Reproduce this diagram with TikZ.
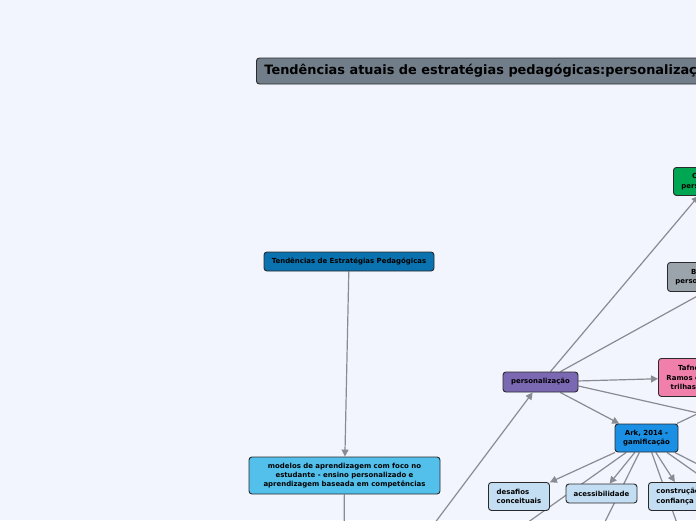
\documentclass[tikz,border=0pt]{standalone}
\usepackage{fontspec}
\setmainfont{DejaVu Sans}
\usetikzlibrary{arrows.meta}
\definecolor{bgc}{HTML}{F2F5FE}
\definecolor{edgec}{HTML}{8A8B92}
\definecolor{titlec}{HTML}{717D89}
\definecolor{greenc}{HTML}{00A651}
\definecolor{grayc}{HTML}{9BA3AB}
\definecolor{pinkc}{HTML}{F07FAC}
\definecolor{purplec}{HTML}{7B68B2}
\definecolor{arkc}{HTML}{1A8FE3}
\definecolor{lightc}{HTML}{C3DDF2}
\definecolor{tendc}{HTML}{0A72AE}
\definecolor{modelc}{HTML}{53C0EC}
\definecolor{borderc}{HTML}{2A2A2A}
\newcommand\smallbold{\fontsize{6.95}{9.3}\selectfont\bfseries}
\pgfdeclarelayer{back}
\pgfdeclarelayer{edges}
\pgfsetlayers{back,edges,main}
\tikzset{
  box/.style={draw=borderc, line width=0.9pt, rounded corners=3pt, font=\smallbold, align=center, inner sep=2pt, text=black},
  edge/.style={draw=edgec, line width=1.2pt},
  arr/.style={edge, -{Triangle[length=7pt,width=7pt]}},
}
\begin{document}
\begin{tikzpicture}[x=1pt,y=-1pt]
\useasboundingbox (0,0) rectangle (696,520);
\begin{pgfonlayer}{back}
\fill[bgc] (0,0) rectangle (696,520);
\end{pgfonlayer}

% nodes
\node[box, anchor=west, fill=titlec, font=\fontsize{12.9}{15}\selectfont\bfseries, inner xsep=8pt, minimum height=26pt] (title) at (256,71) {Tendências atuais de estratégias pedagógicas:personalização, gamificação e competências};
\node[box, anchor=north west, fill=greenc, inner xsep=8pt, minimum height=28pt] (green) at (673,167) {Cardoso -\\personalização};
\node[box, anchor=north west, fill=grayc, inner xsep=8pt, minimum height=29pt] (gray) at (667,262) {Brasil -\\personalização};
\node[box, anchor=north west, fill=pinkc, inner xsep=8pt, minimum height=38pt] (pink) at (658,358) {Tafner, 2020 e\\Ramos et al., 2021 -\\trilhas formativas};
\node[box, fill=purplec, minimum width=75pt, minimum height=20pt] (pers) at (540.5,382) {personalização};
\node[box, fill=arkc, minimum width=63pt, minimum height=28pt] (ark) at (646.5,438) {Ark, 2014 -\\gamificação};
\node[box, anchor=north west, fill=lightc, align=left, inner xsep=8pt, minimum width=61pt, minimum height=28pt] (desaf) at (488,482) {desafios\\conceituais};
\node[box, fill=lightc, minimum width=71pt, minimum height=19pt] (acess) at (601.5,493.5) {acessibilidade};
\node[box, anchor=north west, fill=lightc, align=left, inner xsep=8pt, minimum height=28pt] (constr) at (648,482) {construção de\\confiança};
\node[box, fill=tendc, minimum width=170pt, minimum height=19pt] (tend) at (349,261.5) {Tendências de Estratégias Pedagógicas};
\node[box, fill=modelc, minimum width=191pt, minimum height=37pt] (model) at (344.5,475.5) {modelos de aprendizagem com foco no\\estudante - ensino personalizado e\\aprendizagem baseada em competências};

% off-canvas targets
\coordinate (offA) at (422,540);
\coordinate (offB) at (344,540);
\coordinate (offC) at (760,427);
\coordinate (offD) at (503,540);
\coordinate (offE) at (596,540);
\coordinate (offF) at (683,540);
\coordinate (offG) at (760,518);
\coordinate (offH) at (760,496);
\coordinate (offI) at (760,384);

\begin{pgfonlayer}{edges}
\draw[arr] (tend) -- (model);
\draw[edge] (model) -- (offB);
\draw[arr] (offA) -- (pers);
\draw[arr] ([xshift=10pt]pers.north) -- (green);
\draw[arr] ([xshift=20pt]pers.north) -- (gray.south);
\draw[arr] (pers) -- (pink);
\draw[edge] ([yshift=-4pt]pers.east) -- (offC);
\draw[arr] (pers) -- (ark);
\draw[arr] (ark) -- (desaf);
\draw[edge] (ark) -- (offD);
\draw[arr] (ark) -- (acess);
\draw[edge] (ark) -- (offE);
\draw[arr] (ark) -- (constr);
\draw[edge] (ark) -- (offF);
\draw[edge] (ark) -- (offG);
\draw[edge] (ark) -- (offH);
\draw[edge] (ark) -- (offI);
\end{pgfonlayer}
\end{tikzpicture}
\end{document}
